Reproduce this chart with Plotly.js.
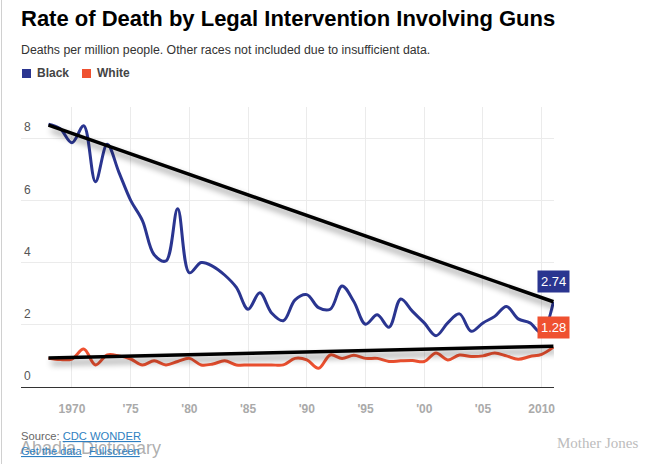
<!DOCTYPE html>
<html>
<head>
<meta charset="utf-8">
<script src="https://cdn.plot.ly/plotly-3.0.1.min.js"></script>
<style>
html,body{margin:0;padding:0;background:#fff;}
#chart{width:661px;height:464px;}
</style>
</head>
<body>
<div id="chart"></div>
<script>
// ---- data ----
const years = [1968,1969,1970,1971,1972,1973,1974,1975,1976,1977,
               1978,1979,1980,1981,1982,1983,1984,1985,1986,1987,
               1988,1989,1990,1991,1992,1993,1994,1995,1996,1997,
               1998,1999,2000,2001,2002,2003,2004,2005,2006,2007,
               2008,2009,2010,2011];
const blackRate = [8.45,8.30,7.85,8.40,6.60,7.80,6.90,6.00,5.35,4.25,
                   4.05,5.73,3.67,4.00,3.88,3.60,3.20,2.50,3.03,2.38,
                   2.13,2.80,2.97,2.55,2.50,3.25,2.75,2.02,2.32,1.92,
                   2.83,2.43,2.06,1.65,2.06,2.35,1.79,2.06,2.27,2.59,
                   2.19,2.06,1.74,2.74];
const whiteRate = [0.92,0.88,0.90,1.22,0.71,1.03,1.00,0.90,0.71,0.84,
                   0.71,0.82,0.92,0.71,0.74,0.84,0.71,0.71,0.71,0.71,
                   0.71,0.92,0.87,0.60,1.03,0.92,1.02,0.92,0.92,0.82,
                   0.84,0.85,0.82,1.09,0.87,1.03,0.98,1.00,1.09,1.00,
                   0.89,0.98,1.05,1.28];
const trendYears = [1968, 2011];
const blackTrend = [8.42, 2.74];
const whiteTrend = [0.93, 1.31];
const tickYears = [1970,1975,1980,1985,1990,1995,2000,2005,2010];
const tickLabels = ["1970","'75","'80","'85","'90","'95","'00","'05","2010"];
const yTicks = [0,2,4,6,8];
const seriesNames = ["Black","White"];

// ---- styling ----
const BLUE = '#2a3590', RED = '#ef5130';
const FONT = 'Liberation Sans, Arial, Helvetica, sans-serif';
const L = 21, R = 554, T = 107, B = 387, W = 661, H = 464;
const px = x => (x - L) / (R - L);
const py = y => (B - y) / (B - T);

const traces = [
  {x: years, y: blackRate, name: seriesNames[0], mode: 'lines',
   line: {color: BLUE, width: 3, shape: 'spline', smoothing: 1}, showlegend: false},
  {x: years, y: whiteRate, name: seriesNames[1], mode: 'lines',
   line: {color: RED, width: 3, shape: 'spline', smoothing: 1}, showlegend: false},
  {x: trendYears, y: blackTrend, mode: 'lines', line: {color: '#000', width: 3.5},
   showlegend: false, name: 'trend-black'},
  {x: trendYears, y: whiteTrend, mode: 'lines', line: {color: '#000', width: 3.5},
   showlegend: false, name: 'trend-white'}
];

const last = years.length - 1;
const annotations = [
  {xref: 'paper', yref: 'paper', x: px(19), y: py(50), xanchor: 'left', yanchor: 'middle', showarrow: false,
   text: 'Deaths per million people. Other races not included due to insufficient data.',
   font: {family: FONT, size: 12.3, color: '#333'}},
  {xref: 'paper', yref: 'paper', x: px(35), y: py(73), xanchor: 'left', yanchor: 'middle', showarrow: false,
   text: '<b>' + seriesNames[0] + '</b>', font: {family: FONT, size: 12, color: '#444'}},
  {xref: 'paper', yref: 'paper', x: px(95), y: py(73), xanchor: 'left', yanchor: 'middle', showarrow: false,
   text: '<b>' + seriesNames[1] + '</b>', font: {family: FONT, size: 12, color: '#444'}},
  {xref: 'x', yref: 'y', x: years[last], y: blackRate[last], yshift: 20, showarrow: false,
   text: blackRate[last].toFixed(2), bgcolor: BLUE, borderpad: 3,
   font: {family: FONT, size: 13, color: '#fff'}},
  {xref: 'x', yref: 'y', x: years[last], y: whiteRate[last], yshift: 20, showarrow: false,
   text: whiteRate[last].toFixed(2), bgcolor: RED, borderpad: 3,
   font: {family: FONT, size: 13, color: '#fff'}},
  {xref: 'paper', yref: 'paper', x: px(18), y: py(448), xanchor: 'left', yanchor: 'middle', showarrow: false,
   text: 'Abadia Dictionary', font: {family: FONT, size: 18, color: 'rgba(140,140,140,0.7)'}},
  {xref: 'paper', yref: 'paper', x: px(19), y: py(436), xanchor: 'left', yanchor: 'middle', showarrow: false,
   text: 'Source: <span style="color:#2f7fc1"><u>CDC WONDER</u></span>',
   font: {family: FONT, size: 11.2, color: '#666'}},
  {xref: 'paper', yref: 'paper', x: px(19), y: py(451), xanchor: 'left', yanchor: 'middle', showarrow: false,
   text: '<u>Get the data</u>', font: {family: FONT, size: 11, color: '#2f7fc1'}},
  {xref: 'paper', yref: 'paper', x: px(87), y: py(451), xanchor: 'left', yanchor: 'middle', showarrow: false,
   text: '<u>Fullscreen</u>', font: {family: FONT, size: 11, color: '#2f7fc1'}},
  {xref: 'paper', yref: 'paper', x: px(640), y: py(443), xanchor: 'right', yanchor: 'middle', showarrow: false,
   text: 'Mother Jones', font: {family: 'Liberation Serif, Times New Roman, serif', size: 15, color: '#bcbcbc'}}
];

const shapes = [
  {type: 'rect', xref: 'paper', yref: 'paper', x0: px(22), x1: px(31), y0: py(69), y1: py(78),
   fillcolor: BLUE, line: {width: 0}},
  {type: 'rect', xref: 'paper', yref: 'paper', x0: px(82), x1: px(91), y0: py(69), y1: py(78),
   fillcolor: RED, line: {width: 0}},
  {type: 'line', xref: 'paper', yref: 'paper', x0: px(1.5), x1: px(1.5), y0: py(464), y1: py(0),
   line: {color: '#d0d0d0', width: 1}}
];

const layout = {
  width: W, height: H,
  margin: {l: L, r: W - R, t: T, b: H - B, pad: 0},
  paper_bgcolor: '#fff', plot_bgcolor: '#fff',
  font: {family: FONT, color: '#555'},
  title: {text: '<b>Rate of Death by Legal Intervention Involving Guns</b>',
          xref: 'container', yref: 'container', x: 21 / W, xanchor: 'left',
          y: 1 - 18 / H, yanchor: 'middle',
          font: {family: FONT, size: 22, color: '#000'}},
  xaxis: {range: [1965.66, 2011.05], tickvals: tickYears, ticktext: tickLabels,
          showgrid: true, gridcolor: '#ebebeb', gridwidth: 1, zeroline: false,
          showline: true, linecolor: '#333', linewidth: 1.2, ticks: '',
          ticklabelstandoff: 10,
          tickfont: {family: FONT, size: 12, color: '#aaa', weight: 'bold'}, fixedrange: true},
  yaxis: {range: [0, 9], tickvals: yTicks, showgrid: true, gridcolor: '#ebebeb', gridwidth: 1,
          zeroline: false, showline: false, ticks: '', ticklabelposition: 'inside',
          ticklabeloverflow: 'allow',
          ticklabelshift: -11, ticklabelstandoff: 0,
          tickfont: {family: FONT, size: 12, color: '#555'}, fixedrange: true},
  showlegend: false,
  annotations: annotations,
  shapes: shapes,
  hovermode: false
};

Plotly.newPlot('chart', traces, layout, {displayModeBar: false, staticPlot: true}).then(function(gd){
  const groups = gd.querySelectorAll('.scatterlayer .trace');
  [2,3].forEach(function(i){
    if (groups[i]) {
      groups[i].querySelectorAll('path.js-line').forEach(function(p){
        p.style.filter = 'drop-shadow(3px 5px 3px rgba(0,0,0,0.45))';
      });
    }
  });
});
</script>
</body>
</html>
